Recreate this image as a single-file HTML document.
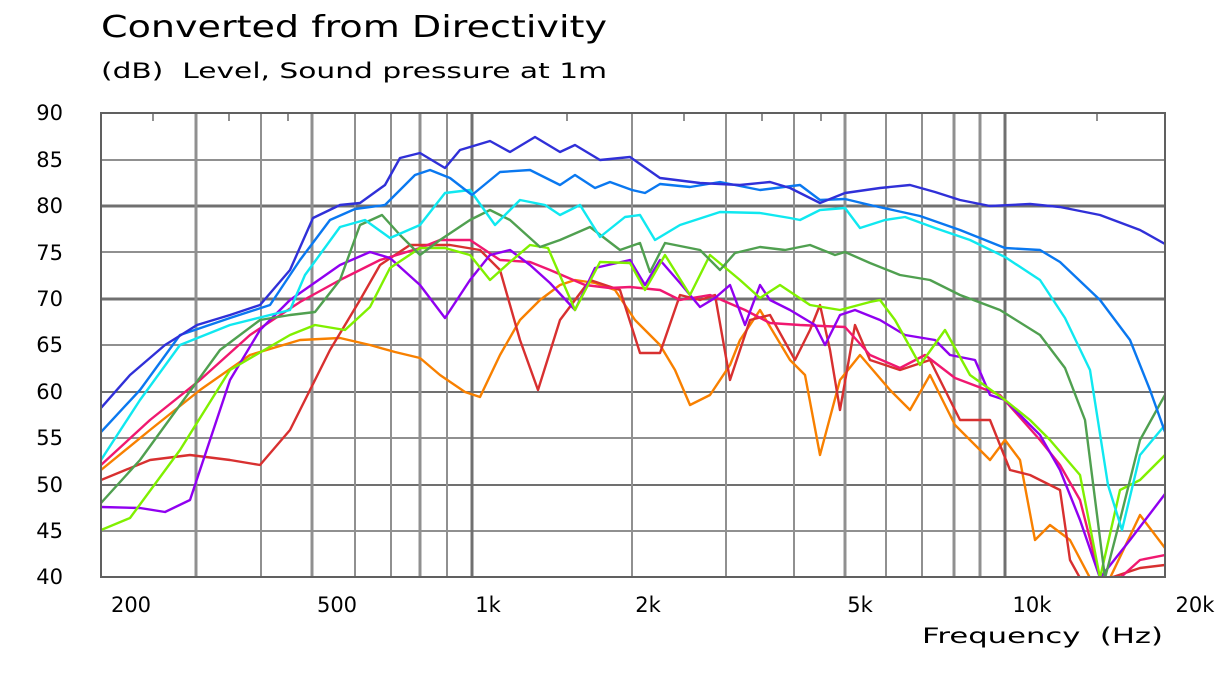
<!DOCTYPE html>
<html><head><meta charset="utf-8"><style>
html,body{margin:0;padding:0;background:#fff;}
svg{display:block;}
text{font-family:"DejaVu Sans","Liberation Sans",sans-serif;fill:#000;white-space:pre;}
</style></head><body>
<svg width="1221" height="686" viewBox="0 0 1221 686" xmlns="http://www.w3.org/2000/svg">
<text x="101" y="37" font-size="30" textLength="506" lengthAdjust="spacingAndGlyphs">Converted from Directivity</text>
<text x="101" y="78" font-size="21" textLength="506" lengthAdjust="spacingAndGlyphs" xml:space="preserve">(dB)  Level, Sound pressure at 1m</text>
<g font-size="21" text-anchor="end">
<text x="63" y="120">90</text><text x="63" y="167">85</text><text x="63" y="213">80</text>
<text x="63" y="260">75</text><text x="63" y="306">70</text><text x="63" y="352">65</text>
<text x="63" y="399">60</text><text x="63" y="445">55</text><text x="63" y="492">50</text>
<text x="63" y="538">45</text><text x="63" y="584">40</text>
</g>
<g font-size="21" text-anchor="middle">
<text x="131" y="612">200</text><text x="337" y="612">500</text><text x="488" y="612">1k</text>
<text x="648" y="612">2k</text><text x="860" y="612">5k</text><text x="1032" y="612">10k</text>
<text x="1195" y="612">20k</text>
</g>
<text x="922" y="643" font-size="21" textLength="241" lengthAdjust="spacingAndGlyphs" xml:space="preserve">Frequency  (Hz)</text>
<g stroke="#909090" stroke-width="2">
<line x1="101" y1="160" x2="1165" y2="160"/><line x1="101" y1="252" x2="1165" y2="252"/>
<line x1="101" y1="345" x2="1165" y2="345"/><line x1="101" y1="438" x2="1165" y2="438"/>
<line x1="101" y1="531" x2="1165" y2="531"/>
<line x1="101" y1="206" x2="1165" y2="206" stroke="#707070" stroke-width="3"/>
<line x1="101" y1="299" x2="1165" y2="299" stroke="#707070" stroke-width="3"/>
<line x1="101" y1="392" x2="1165" y2="392" stroke="#707070" stroke-width="2"/>
<line x1="101" y1="485" x2="1165" y2="485" stroke="#707070" stroke-width="2"/>
<line x1="196" y1="113" x2="196" y2="577" stroke-width="3"/>
<line x1="261" y1="113" x2="261" y2="577"/>
<line x1="312" y1="113" x2="312" y2="577" stroke-width="3"/>
<line x1="355" y1="113" x2="355" y2="577"/>
<line x1="391" y1="113" x2="391" y2="577"/>
<line x1="420" y1="113" x2="420" y2="577" stroke-width="3"/>
<line x1="447" y1="113" x2="447" y2="577"/>
<line x1="472" y1="113" x2="472" y2="577" stroke="#707070" stroke-width="3"/>
<line x1="632" y1="113" x2="632" y2="577"/>
<line x1="726" y1="113" x2="726" y2="577"/>
<line x1="794" y1="113" x2="794" y2="577"/>
<line x1="845" y1="113" x2="845" y2="577" stroke-width="3"/>
<line x1="886" y1="113" x2="886" y2="577"/>
<line x1="922" y1="113" x2="922" y2="577"/>
<line x1="954" y1="113" x2="954" y2="577" stroke-width="3"/>
<line x1="980" y1="113" x2="980" y2="577" stroke-width="3"/>
<line x1="1005" y1="113" x2="1005" y2="577" stroke="#707070" stroke-width="3"/>
<line x1="153" y1="113" x2="153" y2="121"/><line x1="229" y1="113" x2="229" y2="121"/>
<line x1="288" y1="113" x2="288" y2="121"/><line x1="567" y1="113" x2="567" y2="121"/>
<line x1="684" y1="113" x2="684" y2="121"/><line x1="762" y1="113" x2="762" y2="121"/>
<line x1="821" y1="113" x2="821" y2="121"/><line x1="1097" y1="113" x2="1097" y2="121"/>
</g>
<defs><clipPath id="c"><rect x="101" y="113" width="1064" height="464"/></clipPath></defs>
<g fill="none" stroke-width="2.4" clip-path="url(#c)" stroke-linejoin="round">
<polyline stroke="#f88000" points="101,470 150,430 200,390 250,355 300,340 340,338 370,345 395,352 420,358 440,375 465,392 480,397 500,355 520,320 540,300 560,285 575,280 595,283 615,290 635,320 660,345 675,370 690,405 710,395 730,365 740,340 760,310 790,360 805,375 820,455 840,380 860,355 890,390 910,410 930,375 945,405 955,425 975,445 990,460 1005,440 1020,460 1035,540 1050,525 1070,540 1090,578 1110,578 1140,515 1165,548"/>
<polyline stroke="#d83030" points="101,480 150,460 190,455 230,460 260,465 290,430 330,350 360,300 380,265 410,245 450,245 480,250 500,270 520,340 538,390 560,320 590,280 620,290 640,353 660,353 680,295 700,300 715,295 730,380 750,320 770,315 795,360 810,330 820,305 830,350 840,410 855,325 870,360 900,370 930,360 960,420 990,420 1010,470 1030,475 1060,490 1070,560 1080,578 1110,578 1140,568 1165,565"/>
<polyline stroke="#f01870" points="101,465 150,420 200,380 250,335 300,302 340,280 380,260 420,248 440,240 470,240 500,260 530,262 550,270 585,285 610,288 630,287 660,290 680,300 710,295 745,310 770,323 800,325 845,327 870,355 900,368 925,355 955,378 1000,395 1040,440 1060,465 1080,500 1100,578 1120,578 1140,560 1165,555"/>
<polyline stroke="#9000f0" points="101,507 140,508 165,512 190,500 230,380 260,330 290,300 340,265 370,252 390,258 420,285 445,318 470,280 490,255 510,250 530,265 550,283 575,310 595,268 630,260 645,285 660,260 680,283 700,307 715,298 730,285 745,325 760,285 770,300 790,310 815,325 825,345 840,315 855,310 880,320 905,335 935,340 950,355 975,360 990,395 1005,400 1020,415 1040,435 1060,470 1080,520 1100,578 1130,540 1165,494"/>
<polyline stroke="#80f000" points="101,530 130,518 180,450 230,370 290,335 315,325 345,330 370,307 390,268 420,248 445,248 470,255 490,280 510,262 530,245 548,248 575,310 600,262 630,263 645,290 665,255 690,295 710,255 740,280 760,298 780,285 810,305 840,310 870,302 880,300 895,320 920,365 945,330 970,375 1005,400 1030,420 1050,440 1080,475 1100,578 1120,490 1140,480 1165,455"/>
<polyline stroke="#50a050" points="101,503 140,460 180,405 220,350 260,320 290,315 315,312 340,280 360,225 382,215 400,235 420,255 440,240 470,220 490,210 510,220 540,247 560,240 590,227 620,250 640,243 650,272 665,243 700,250 720,270 735,253 760,247 785,250 810,245 835,255 845,252 870,263 900,275 930,280 960,295 1000,310 1040,335 1065,368 1085,420 1105,578 1120,520 1140,440 1165,395"/>
<polyline stroke="#10e8f0" points="101,460 140,400 180,345 230,325 290,310 305,275 340,227 365,220 390,238 420,225 445,193 470,190 495,225 520,200 545,205 560,215 580,205 600,237 625,217 640,215 655,240 680,225 720,212 760,213 790,218 800,220 820,210 845,208 860,228 885,220 905,217 935,228 970,240 1005,257 1040,280 1065,318 1090,370 1108,485 1122,530 1140,455 1165,425"/>
<polyline stroke="#0a78f0" points="101,432 140,390 180,335 230,318 270,305 300,260 330,220 355,209 385,205 415,175 430,170 450,178 472,195 500,172 530,170 560,185 575,175 595,188 610,182 632,190 645,193 660,184 690,187 720,182 760,190 800,185 820,200 845,199 870,205 920,216 960,230 1005,248 1040,250 1060,262 1100,300 1130,340 1150,390 1165,432"/>
<polyline stroke="#3030d8" points="101,408 130,375 165,345 197,325 230,315 260,305 290,270 313,218 340,205 360,203 385,185 400,158 420,153 445,168 460,150 490,141 510,152 535,137 560,152 575,145 600,160 630,157 660,178 700,183 740,185 770,182 790,188 820,203 845,193 880,188 910,185 935,192 960,200 990,206 1030,204 1060,207 1100,215 1140,230 1165,244"/>
</g>
<rect x="101" y="113" width="1064" height="464" fill="none" stroke="#606060" stroke-width="2"/>
</svg>
</body></html>
